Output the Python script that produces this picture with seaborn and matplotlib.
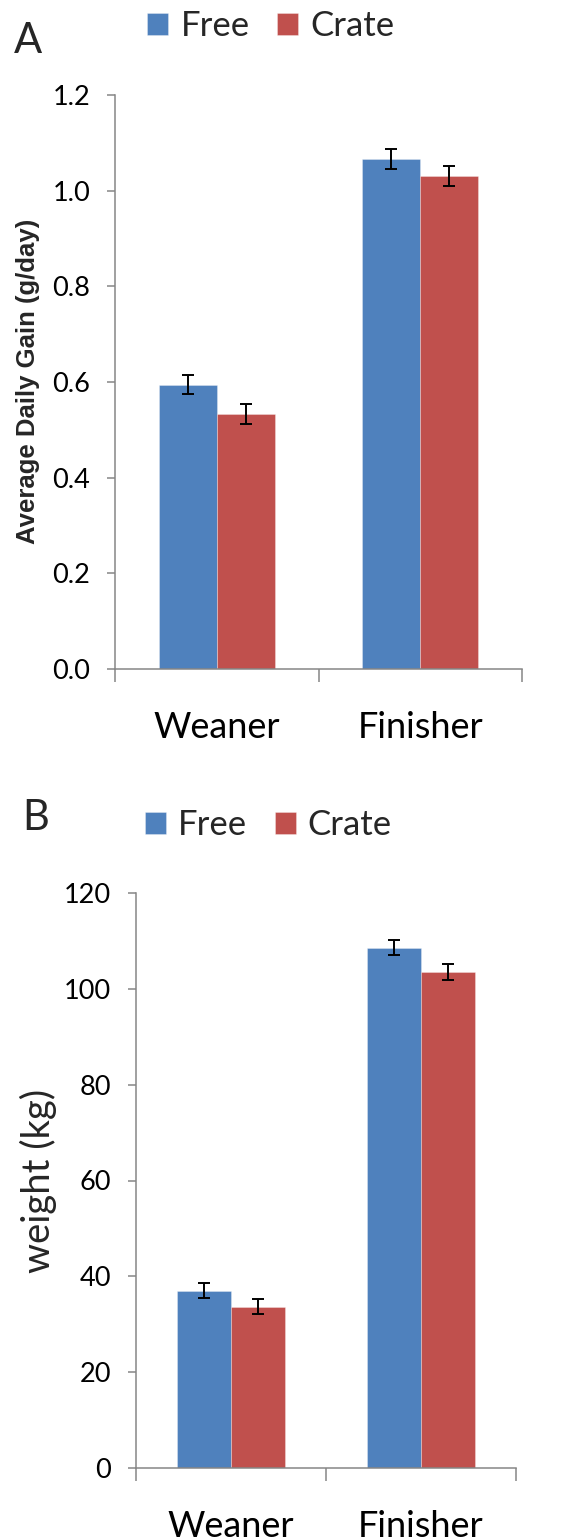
import matplotlib
matplotlib.use("Agg")
import matplotlib.pyplot as plt
import seaborn as sns
import pandas as pd
from matplotlib.ticker import FormatStrFormatter, MultipleLocator

# ---- data ----
categories = ["Weaner", "Finisher"]
groups = ["Free", "Crate"]

adg_free = [0.594, 1.067]
adg_crate = [0.533, 1.031]
adg_free_err = [0.020, 0.021]
adg_crate_err = [0.020, 0.021]

weight_free = [37.0, 108.6]
weight_crate = [33.7, 103.5]
weight_free_err = [1.6, 1.6]
weight_crate_err = [1.6, 1.7]

colors = {"Free": "#4F81BD", "Crate": "#C0504D"}
GRAY = "#868686"

sns.set_theme(style="ticks")
plt.rcParams['font.family'] = ['Lato', 'DejaVu Sans']

fig = plt.figure(figsize=(5.64, 15.4), dpi=100)
W, H = 564, 1540


def fr(x0, y_top, x1, y_bot):
    return [x0 / W, 1 - y_bot / H, (x1 - x0) / W, (y_bot - y_top) / H]


axA = fig.add_axes(fr(115, 95, 522, 669))
axB = fig.add_axes(fr(136, 893, 516, 1468))


def draw(ax, free, crate, free_err, crate_err, ymax, step, fmt, leg_xy):
    df = pd.DataFrame({
        "stage": categories * 2,
        "housing": [groups[0]] * len(categories) + [groups[1]] * len(categories),
        "value": list(free) + list(crate),
    })
    sns.barplot(data=df, x="stage", y="value", hue="housing", order=categories,
                hue_order=groups, palette=colors, width=0.571, errorbar=None,
                saturation=1, ax=ax, edgecolor=(1, 1, 1, 0.35), linewidth=0.6)
    errs = {groups[0]: free_err, groups[1]: crate_err}
    for cont, g in zip(ax.containers, groups):
        xs = [b.get_x() + b.get_width() / 2 for b in cont]
        ys = [b.get_height() for b in cont]
        ax.errorbar(xs, ys, yerr=errs[g], fmt="none", ecolor="black",
                    elinewidth=1.4, capsize=4.3, capthick=1.4, zorder=5)
    ax.set_xlim(-0.5, 1.5)
    ax.set_ylim(0, ymax)
    ax.yaxis.set_major_locator(MultipleLocator(step))
    ax.yaxis.set_major_formatter(FormatStrFormatter(fmt))
    ax.set_xticks([0, 1])
    ax.set_xticklabels(categories)
    ax.set_xticks([-0.5, 0.5, 1.5], minor=True)
    ax.tick_params(axis="x", which="major", length=0, pad=30, labelsize=26,
                   colors="black")
    ax.tick_params(axis="x", which="minor", length=9.4, width=1.1, color=GRAY,
                   direction="out")
    ax.tick_params(axis="y", which="major", length=5.8, width=1.1, color=GRAY,
                   labelcolor="black", labelsize=19.5, pad=12, direction="out")
    for s in ["top", "right"]:
        ax.spines[s].set_visible(False)
    for s in ["left", "bottom"]:
        ax.spines[s].set_color(GRAY)
        ax.spines[s].set_linewidth(1.1)
    ax.set_xlabel("")
    ax.set_ylabel("")
    sns.move_legend(ax, "center", bbox_to_anchor=leg_xy,
                    bbox_transform=fig.transFigure, ncol=2, frameon=False,
                    title=None, fontsize=25, handlelength=0.6, handleheight=0.6,
                    handletextpad=0.35, columnspacing=0.8)


draw(axA, adg_free, adg_crate, adg_free_err, adg_crate_err, 1.2, 0.2, "%.1f",
     (271 / W, 1 - 26 / H))
draw(axB, weight_free, weight_crate, weight_free_err, weight_crate_err, 120, 20,
     "%d", (268.5 / W, 1 - 825 / H))

fig.text(28 / W, 1 - 381 / H, "Average Daily Gain (g/day)", rotation=90,
         ha="center", va="center", fontsize=18.5, fontweight="bold",
         family=["Liberation Sans", "DejaVu Sans"])
fig.text(38 / W, 1 - 1181 / H, "weight (kg)", rotation=90, ha="center",
         va="center", fontsize=27.5)

fig.text(14 / W, 1 - 53 / H, "A", fontsize=30, ha="left", va="baseline")
fig.text(22 / W, 1 - 830 / H, "B", fontsize=30, ha="left", va="baseline")

fig.savefig("out.png", dpi=100)
